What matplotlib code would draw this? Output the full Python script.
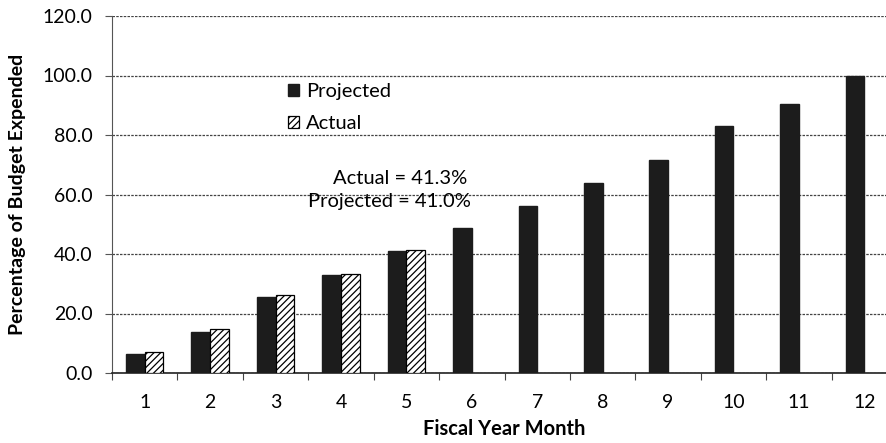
import numpy as np
import matplotlib.pyplot as plt
from matplotlib.ticker import FixedLocator, FormatStrFormatter

months = [1, 2, 3, 4, 5, 6, 7, 8, 9, 10, 11, 12]
projected = [6.4, 13.9, 25.6, 33.1, 41.0, 48.6, 56.1, 63.9, 71.5, 82.9, 90.5, 100.0]
actual = [6.9, 14.7, 26.3, 33.4, 41.3]
yticks = [0, 20, 40, 60, 80, 100, 120]

plt.rcParams['font.family'] = ['Lato', 'DejaVu Sans']
plt.rcParams['hatch.linewidth'] = 0.9

W, H = 886, 443
fig = plt.figure(figsize=(W / 100, H / 100), dpi=100)
# plot area runs a little past the right edge of the picture, as in the scan
ax = fig.add_axes([112 / W, (H - 373) / H, (897 - 112) / W, (373 - 16) / H])

x = np.arange(len(months))
w = 0.285
ax.bar(x - w / 2, projected, w, color='#1c1c1c', edgecolor='#1c1c1c',
       label='Projected', zorder=3)
ax.bar(x[:len(actual)] + w / 2, actual, w, color='white', edgecolor='black',
       hatch='/////', linewidth=0.9, label='Actual', zorder=3)

ax.set_xlim(-0.5, len(months) - 0.5)
ax.set_ylim(0, 120)
ax.set_yticks(yticks)
ax.yaxis.set_major_formatter(FormatStrFormatter('%.1f'))
ax.set_xticks(x)
ax.set_xticklabels([str(m) for m in months])
ax.xaxis.set_minor_locator(FixedLocator(np.arange(len(months) + 1) - 0.5))
ax.tick_params(axis='x', which='major', length=0, labelsize=14, pad=15)
ax.tick_params(axis='x', which='minor', length=5, width=0.8, color='#444444',
               direction='out')
ax.tick_params(axis='y', length=5, width=0.8, color='#555555', labelsize=14,
               pad=9)

ax.grid(axis='y', linestyle=(0, (2, 1)), color='#444444', linewidth=0.9,
        zorder=0)
ax.set_axisbelow(True)
for s in ['top', 'right']:
    ax.spines[s].set_visible(False)
ax.spines['left'].set_linestyle((0, (2, 1)))
ax.spines['left'].set_color('#555555')
ax.spines['bottom'].set_color('#222222')
ax.spines['bottom'].set_linewidth(1.2)

ax.set_ylabel('Percentage of Budget Expended', fontsize=14, fontweight='bold')
ax.yaxis.set_label_coords(-0.11, 0.5)
ax.set_xlabel('Fiscal Year Month', fontsize=14.5, fontweight='bold')
ax.xaxis.set_label_coords(0.5, -0.128)

ax.legend(loc='center left', bbox_to_anchor=(0.224, 0.744), frameon=False,
          fontsize=14.5, handlelength=0.55, handleheight=0.55,
          handletextpad=0.35, labelspacing=0.75, borderpad=0, borderaxespad=0)

ax.text(0.367, 0.546, 'Actual = 41.3%', transform=ax.transAxes,
        ha='center', va='center', fontsize=14.5)
ax.text(0.354, 0.479, 'Projected = 41.0%', transform=ax.transAxes,
        ha='center', va='center', fontsize=14.5)

fig.savefig('out.png', dpi=100)
